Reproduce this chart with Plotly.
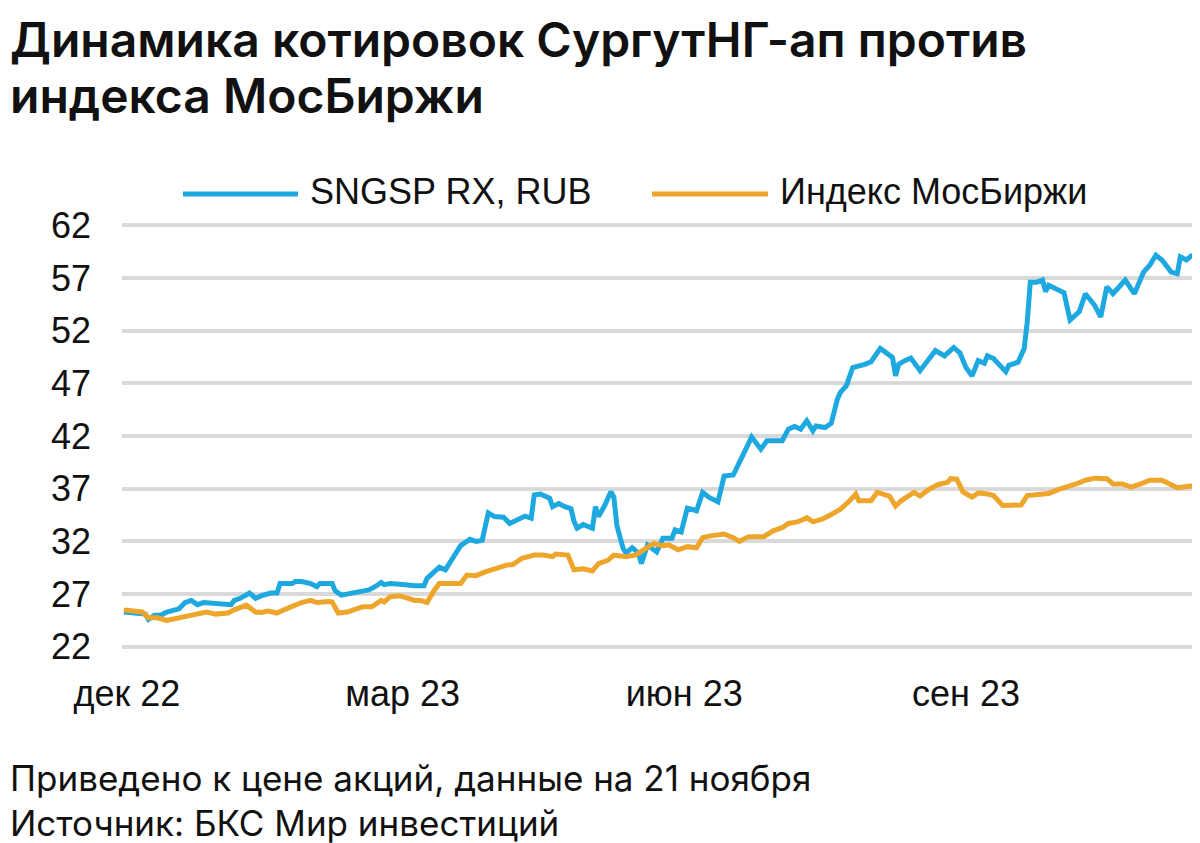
import plotly.graph_objects as go

# --- data ---
sngsp_dates = [
    "2022-11-30", "2022-12-04", "2022-12-07", "2022-12-08", "2022-12-10", "2022-12-12", "2022-12-14",
    "2022-12-18", "2022-12-20", "2022-12-22", "2022-12-24", "2022-12-26", "2022-12-29",
    "2023-01-01", "2023-01-04", "2023-01-05", "2023-01-07", "2023-01-10", "2023-01-12", "2023-01-14",
    "2023-01-17", "2023-01-19", "2023-01-20", "2023-01-24", "2023-01-25", "2023-01-27", "2023-01-30",
    "2023-02-01", "2023-02-02", "2023-02-06", "2023-02-07", "2023-02-09", "2023-02-11", "2023-02-13",
    "2023-02-18", "2023-02-20", "2023-02-22", "2023-02-23", "2023-02-25",
    "2023-03-01", "2023-03-03", "2023-03-05", "2023-03-08", "2023-03-09", "2023-03-13", "2023-03-15",
    "2023-03-18", "2023-03-20", "2023-03-23", "2023-03-25", "2023-03-27", "2023-03-29", "2023-03-31",
    "2023-04-03", "2023-04-05", "2023-04-08", "2023-04-10", "2023-04-12", "2023-04-13", "2023-04-15",
    "2023-04-18", "2023-04-19", "2023-04-21", "2023-04-23", "2023-04-25", "2023-04-26", "2023-04-27",
    "2023-04-29", "2023-05-02", "2023-05-03", "2023-05-04", "2023-05-06", "2023-05-08", "2023-05-09",
    "2023-05-10", "2023-05-12", "2023-05-13", "2023-05-15", "2023-05-17", "2023-05-18", "2023-05-19",
    "2023-05-20", "2023-05-23", "2023-05-25", "2023-05-28", "2023-05-29", "2023-05-31",
    "2023-06-02", "2023-06-04", "2023-06-05", "2023-06-07", "2023-06-09", "2023-06-12", "2023-06-14",
    "2023-06-17", "2023-06-19", "2023-06-21", "2023-06-23", "2023-06-26", "2023-06-28",
    "2023-07-03", "2023-07-05", "2023-07-07", "2023-07-09", "2023-07-11", "2023-07-13", "2023-07-14",
    "2023-07-17", "2023-07-19", "2023-07-21", "2023-07-22", "2023-07-24", "2023-07-26", "2023-07-28",
    "2023-07-30", "2023-08-01", "2023-08-04", "2023-08-05", "2023-08-07", "2023-08-08", "2023-08-09",
    "2023-08-10", "2023-08-12", "2023-08-14", "2023-08-17", "2023-08-20", "2023-08-22", "2023-08-25",
    "2023-08-27", "2023-08-28", "2023-08-30", "2023-09-01", "2023-09-03", "2023-09-05", "2023-09-07",
    "2023-09-08", "2023-09-10", "2023-09-14", "2023-09-15", "2023-09-18", "2023-09-20", "2023-09-21",
    "2023-09-22", "2023-09-24", "2023-09-26", "2023-09-27", "2023-09-28",
    "2023-10-01", "2023-10-03", "2023-10-05", "2023-10-08", "2023-10-10", "2023-10-13", "2023-10-15",
    "2023-10-17", "2023-10-19", "2023-10-23", "2023-10-26", "2023-10-29", "2023-10-31",
    "2023-11-02", "2023-11-04", "2023-11-07", "2023-11-09", "2023-11-10", "2023-11-12", "2023-11-14",
]
sngsp_values = [
    25.3, 25.2, 25.1, 24.6, 25.0, 25.0, 25.3,
    25.6, 26.2, 26.4, 26.0, 26.2, 26.1,
    26.05, 26.0, 26.4, 26.6, 27.1, 26.6, 26.85,
    27.1, 27.1, 28.0, 28.0, 28.2, 28.2, 28.0,
    27.7, 28.0, 28.0, 27.3, 26.9, 27.0, 27.1,
    27.4, 27.7, 28.1, 27.9, 28.0,
    27.9, 27.8, 27.8, 27.8, 28.5, 29.55, 29.3,
    30.7, 31.6, 32.2, 32.0, 32.1, 34.7, 34.35,
    34.3, 33.7, 34.2, 34.4, 34.2, 36.4, 36.5,
    36.1, 35.3, 35.6, 35.3, 35.1, 33.9, 33.25,
    33.6, 33.25, 35.3, 34.35, 35.4, 36.7, 36.2,
    33.5, 31.35, 30.9, 31.4, 30.9, 29.9, 31.0,
    31.65, 31.0, 32.3, 32.3, 33.1, 32.9,
    35.15, 35.0, 34.9, 36.65, 36.2, 35.75, 38.2,
    38.3, 39.5, 40.45, 41.9, 40.75, 41.55,
    41.55, 42.65, 42.9, 42.65, 43.45, 42.5, 42.95,
    42.8, 43.2, 45.5, 46.15, 46.8, 48.5, 48.6,
    48.8, 49.05, 50.3, 50.1, 49.6, 49.45, 47.7,
    48.8, 49.15, 49.4, 48.2, 49.3, 50.1, 49.6,
    50.2, 50.4, 49.9, 48.5, 47.7, 49.15, 48.9,
    49.6, 49.35, 48.1, 48.7, 49.0, 50.3, 52.8,
    56.6, 56.6, 56.8, 55.7, 56.3,
    55.8, 55.6, 53.0, 53.8, 55.5, 54.4, 53.3,
    56.15, 55.5, 56.8, 55.5, 57.55, 58.2,
    59.15, 58.7, 57.55, 57.4, 59.0, 58.7, 59.2,
]

imoex_dates = [
    "2022-11-30", "2022-12-04", "2022-12-06", "2022-12-08", "2022-12-11", "2022-12-14", "2022-12-17",
    "2022-12-20", "2022-12-23", "2022-12-27", "2022-12-30",
    "2023-01-03", "2023-01-05", "2023-01-07", "2023-01-09", "2023-01-12", "2023-01-14", "2023-01-16",
    "2023-01-19", "2023-01-22", "2023-01-25", "2023-01-27", "2023-01-30",
    "2023-02-01", "2023-02-05", "2023-02-06", "2023-02-08", "2023-02-11", "2023-02-13", "2023-02-16",
    "2023-02-19", "2023-02-22", "2023-02-23", "2023-02-25", "2023-02-28",
    "2023-03-02", "2023-03-05", "2023-03-07", "2023-03-09", "2023-03-11", "2023-03-13", "2023-03-17",
    "2023-03-20", "2023-03-22", "2023-03-25", "2023-03-28",
    "2023-04-01", "2023-04-04", "2023-04-06", "2023-04-09", "2023-04-13", "2023-04-16", "2023-04-19",
    "2023-04-20", "2023-04-24", "2023-04-25", "2023-04-26", "2023-04-29",
    "2023-05-02", "2023-05-04", "2023-05-07", "2023-05-09", "2023-05-13", "2023-05-16", "2023-05-19",
    "2023-05-22", "2023-05-25", "2023-05-27", "2023-05-30",
    "2023-06-02", "2023-06-05", "2023-06-07", "2023-06-09", "2023-06-12", "2023-06-14", "2023-06-17",
    "2023-06-19", "2023-06-22", "2023-06-27", "2023-06-30",
    "2023-07-03", "2023-07-05", "2023-07-08", "2023-07-10", "2023-07-11", "2023-07-13", "2023-07-16",
    "2023-07-19", "2023-07-22", "2023-07-25", "2023-07-27", "2023-07-28",
    "2023-08-01", "2023-08-03", "2023-08-07", "2023-08-09", "2023-08-11", "2023-08-15", "2023-08-17",
    "2023-08-20", "2023-08-23", "2023-08-26", "2023-08-27", "2023-08-29", "2023-08-31",
    "2023-09-03", "2023-09-05", "2023-09-08", "2023-09-10", "2023-09-13", "2023-09-15", "2023-09-19",
    "2023-09-21", "2023-09-25", "2023-09-28",
    "2023-10-02", "2023-10-04", "2023-10-07", "2023-10-10", "2023-10-13", "2023-10-17", "2023-10-19",
    "2023-10-22", "2023-10-25", "2023-10-28", "2023-10-31",
    "2023-11-04", "2023-11-07", "2023-11-09", "2023-11-12", "2023-11-14",
]
imoex_values = [
    25.5, 25.3, 25.3, 24.75, 24.75, 24.5, 24.7,
    24.9, 25.1, 25.3, 25.1,
    25.2, 25.5, 25.75, 25.95, 25.3, 25.25, 25.4,
    25.2, 25.6, 26.0, 26.2, 26.4,
    26.2, 26.3, 26.25, 25.2, 25.3, 25.5, 25.8,
    25.8, 26.4, 26.25, 26.75, 26.85,
    26.7, 26.4, 26.4, 26.2, 27.2, 28.0, 28.0,
    28.0, 28.8, 28.75, 29.1,
    29.5, 29.75, 29.8, 30.4, 30.7, 30.7, 30.55,
    30.8, 30.7, 30.1, 29.3, 29.4,
    29.2, 29.9, 30.2, 30.7, 30.55, 30.7, 31.2,
    31.8, 31.6, 31.65, 31.2,
    31.5, 31.4, 32.35, 32.5, 32.65, 32.7, 32.35,
    32.0, 32.45, 32.45, 33.0,
    33.3, 33.7, 33.85, 34.1, 34.25, 33.85, 34.1,
    34.55, 35.05, 35.85, 36.5, 35.85,
    35.85, 36.65, 36.3, 35.35, 35.9, 36.65, 36.3,
    36.95, 37.4, 37.6, 37.95, 37.9, 36.7,
    36.2, 36.6, 36.5, 36.35, 35.4, 35.4, 35.45,
    36.35, 36.5, 36.55,
    37.0, 37.15, 37.45, 37.8, 38.0, 37.95, 37.45,
    37.45, 37.15, 37.45, 37.8,
    37.8, 37.3, 37.1, 37.2, 37.25,
]

series_names = ["SNGSP RX, RUB", "Индекс МосБиржи"]
tick_dates = ["2022-12-01", "2023-03-01", "2023-06-01", "2023-09-01"]
tick_labels = ["дек 22", "мар 23", "июн 23", "сен 23"]
y_ticks = [22, 27, 32, 37, 42, 47, 52, 57, 62]

title_lines = ["Динамика котировок СургутНГ-ап против", "индекса МосБиржи"]
notes = ["Приведено к цене акций, данные на 21 ноября", "Источник: БКС Мир инвестиций"]

BLUE = "#1DA8E0"
ORANGE = "#EDA62B"
GRID = "#D9D9D9"
INK = "#111111"

#--- page geometry (pixels); the page body adds an 8px offset
OFF = 8
W, H = 1200 - OFF, 843 - OFF
ML, MR, MT, MB = 122 - OFF, 5, 221 - OFF, 192
PW, PH = W - ML - MR, H - MT - MB


def paper(px, py):
    '''pixel position in the screenshot -> paper coordinates'''
    return (px - OFF - ML) / PW, 1 - (py - OFF - MT) / PH


fig = go.Figure()
for dates, values, color, name in [(sngsp_dates, sngsp_values, BLUE, series_names[0]),
                                   (imoex_dates, imoex_values, ORANGE, series_names[1])]:
    fig.add_trace(go.Scatter(
        x=dates, y=values, name=name, mode="lines",
        line=dict(color=color, width=5),
    ))

#--- legend drawn by hand (long line samples)
shapes, annotations = [], []
legend_items = [(183, 298, 308, BLUE, series_names[0]), (652, 768, 778, ORANGE, series_names[1])]
for x0, x1, xt, color, name in legend_items:
    a0, b = paper(x0, 194)
    a1, _ = paper(x1, 194)
    shapes.append(dict(type="line", xref="paper", yref="paper", x0=a0, x1=a1, y0=b, y1=b,
                       line=dict(color=color, width=5)))
    at, bt = paper(xt, 192)
    annotations.append(dict(text=name, xref="paper", yref="paper", x=at, y=bt,
                            xanchor="left", yanchor="middle", showarrow=False,
                            font=dict(family="Liberation Sans, Arial", size=36, color=INK)))

#--- title and footnotes (first title line hangs from the top edge)
for text, py, anchor, size, weight in [(title_lines[0], 8, "top", 48, 600),
                                       (title_lines[1], 95, "middle", 48, 600),
                                       (notes[0], 778, "middle", 35, 400),
                                       (notes[1], 823, "middle", 35, 400)]:
    ax, ay = paper(8, py)
    annotations.append(dict(text=text,
                            xref="paper", yref="paper", x=ax, y=ay,
                            xanchor="left", yanchor=anchor, showarrow=False,
                            font=dict(family="Inter, Roboto, sans-serif", size=size,
                                      weight=weight, color=INK)))

fig.update_layout(
    width=W, height=H,
    margin=dict(l=ML, r=MR, t=MT, b=MB),
    plot_bgcolor="white", paper_bgcolor="white",
    showlegend=False,
    shapes=shapes, annotations=annotations,
    font=dict(family="Liberation Sans, Arial", size=36, color=INK),
)
fig.update_xaxes(
    type="date",
    range=["2022-11-29 09:00", "2023-11-14 19:00"],
    tickvals=tick_dates, ticktext=tick_labels,
    showgrid=False, zeroline=False, showline=False, ticks="",
    ticklabelstandoff=18,
)
fig.update_yaxes(
    range=[21.6, 62.4],
    tickvals=y_ticks,
    showgrid=True, gridcolor=GRID, gridwidth=4,
    zeroline=False, showline=False, ticks="",
    ticklabelstandoff=30,
)

fig.write_html("out.html")
